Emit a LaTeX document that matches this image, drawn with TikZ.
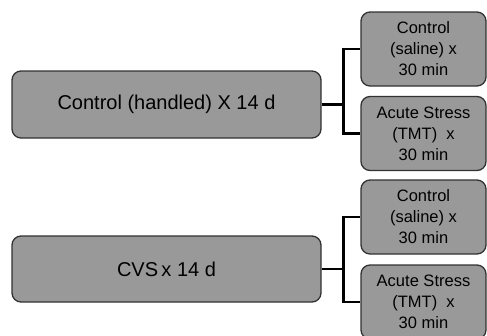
\documentclass[tikz,border=0pt]{standalone}
\usepackage{fontspec}
\setmainfont{Liberation Sans}
\begin{document}
\begin{tikzpicture}[x=1pt, y=-1pt, line cap=round, line join=round,
  groupbox/.style={draw=boxedge, fill=boxgray, line width=1.3pt, rounded corners=9pt,
    minimum width=309pt, minimum height=67pt, inner sep=0pt,
    font=\fontsize{20}{24}\selectfont},
  testbox/.style={draw=boxedge, fill=boxgray, line width=1.3pt, rounded corners=9pt,
    minimum width=125pt, minimum height=74pt, inner sep=0pt, align=center,
    font=\fontsize{16.5}{21}\selectfont},
  fork/.style={line width=2.6pt, line cap=butt, line join=miter}]
  \definecolor{boxgray}{RGB}{153,153,153}
  \definecolor{boxedge}{RGB}{50,50,50}
  \useasboundingbox (0,0) rectangle (487,335);
  % control group
  \node[groupbox] (ctrl) at (166.5,104.5) {Control (handled) X 14 d};
  \node[testbox] (ctrlsal) at (423.5,49) {Control\\(saline) x\\30 min};
  \node[testbox] (ctrltmt) at (423.5,133.5) {Acute Stress\\(TMT)\ \ x\\30 min};
  \draw[fork] (ctrl.east) -- ++(22,0) coordinate (ctrlfork);
  \draw[fork] (ctrlfork) |- (ctrlsal.west);
  \draw[fork] (ctrlfork) |- (ctrltmt.west);
  % chronic variable stress group
  \node[groupbox, minimum height=66pt] (cvs) at (166.5,269) {CVS\,x 14 d};
  \node[testbox] (cvssal) at (423.5,217) {Control\\(saline) x\\30 min};
  \node[testbox] (cvstmt) at (423.5,302) {Acute Stress\\(TMT)\ \ x\\30 min};
  \draw[fork] (cvs.east) -- ++(22,0) coordinate (cvsfork);
  \draw[fork] (cvsfork) |- (cvssal.west);
  \draw[fork] (cvsfork) |- (cvstmt.west);
\end{tikzpicture}
\end{document}
